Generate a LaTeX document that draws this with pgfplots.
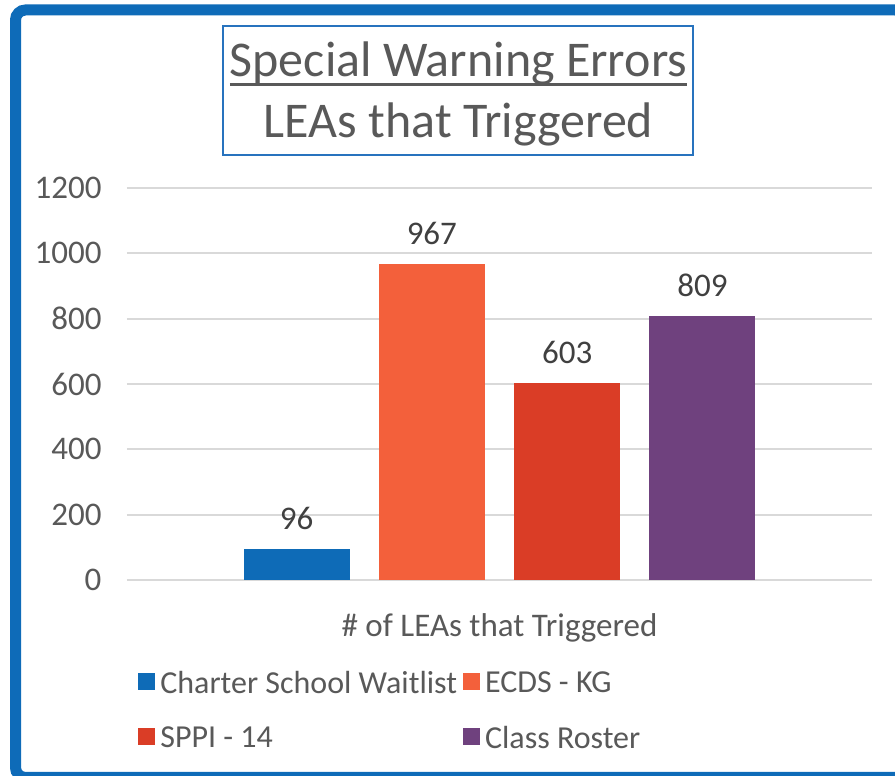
\documentclass[border=0pt]{standalone}
\usepackage{fontspec}
\setmainfont{Carlito}
\usepackage{pgfplots}
\pgfplotsset{compat=1.18}
\definecolor{cBlue}{RGB}{14,107,183}
\definecolor{cOrange}{RGB}{243,96,59}
\definecolor{cRed}{RGB}{218,61,38}
\definecolor{cPurple}{RGB}{111,65,126}
\definecolor{cFrame}{RGB}{14,107,184}
\definecolor{cTitle}{RGB}{40,115,190}
\definecolor{textgrey}{RGB}{89,89,89}
\definecolor{labgrey}{RGB}{64,64,64}
\definecolor{gridgrey}{RGB}{217,217,217}
\newcommand{\myul}[1]{{\setbox0\hbox{#1}\rlap{\rule[-9pt]{\wd0}{2.5pt}}\box0}}
\begin{document}
\begin{tikzpicture}[x=1pt,y=1pt]
\useasboundingbox (0,0) rectangle (895,776);
\clip (0,0) rectangle (895,776);
\fill[white] (0,0) rectangle (895,776);
\draw[cFrame, line width=11pt, rounded corners=10pt] (15.5,-1.5) rectangle (905,766);
% title box
\node[draw=cTitle, line width=1.5pt, minimum width=470pt, minimum height=129pt, inner sep=0pt] at (458,685.5) {};
\node[anchor=base, text=textgrey, font=\fontsize{50}{60}\selectfont, inner sep=0pt] at (458.5,699) {\myul{Special Warning Errors}};
\node[anchor=base, text=textgrey, font=\fontsize{50}{60}\selectfont, inner sep=0pt] at (458.5,638) {LEAs that Triggered};
\begin{axis}[
  at={(127pt,196pt)}, anchor=south west,
  scale only axis, width=745pt, height=392pt,
  xmin=-1, xmax=1, ymin=0, ymax=1200,
  ytick={0,200,400,600,800,1000,1200},
  xtick={0}, xticklabels={\# of LEAs that Triggered},
  axis line style={draw=none},
  major tick length=0pt,
  tick style={draw=none},
  ymajorgrids, grid style={line width=2pt, color=gridgrey},
  /pgf/number format/assume math mode=true,
  /pgf/number format/1000 sep={},
  tick label style={font=\fontsize{33}{40}\selectfont, text=textgrey},
  yticklabel style={xshift=-22pt},
  xticklabel style={yshift=-30pt},
  ybar=29.3pt, bar width=106pt,
  nodes near coords,
  every node near coord/.append style={font=\fontsize{33}{40}\selectfont, text=labgrey, inner sep=0pt, yshift=19pt},
  legend columns=2,
  legend cell align=left,
  legend style={at={(0.015,-0.2245)}, anchor=north west, draw=none, fill=none,
    font=\fontsize{32}{38}\selectfont, text=textgrey, inner sep=0pt, row sep=25pt,
    nodes={inner sep=3pt},
    /tikz/every odd column/.append style={column sep=2pt},
    /tikz/every even column/.append style={column sep=3pt}},
  legend image code/.code={\fill[#1] (0pt,-7pt) rectangle (17pt,10pt);},
]
\addplot[fill=cBlue, draw=none] coordinates {(0,96)};
\addplot[fill=cOrange, draw=none] coordinates {(0,967)};
\addplot[fill=cRed, draw=none] coordinates {(0,603)};
\addplot[fill=cPurple, draw=none] coordinates {(0,809)};
\legend{Charter School Waitlist, ECDS - KG, SPPI - 14, Class Roster}
\end{axis}
\end{tikzpicture}
\end{document}
